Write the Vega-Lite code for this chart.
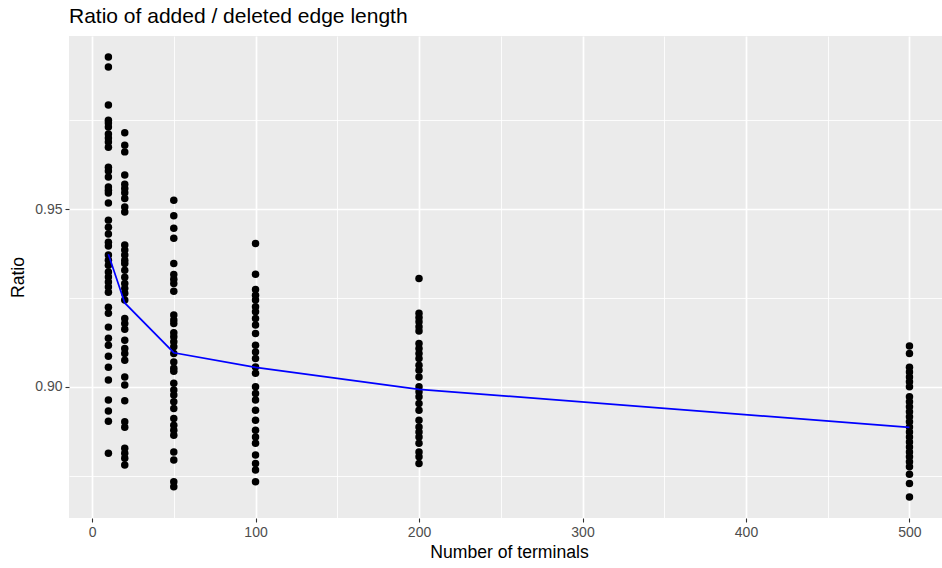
{
  "$schema": "https://vega.github.io/schema/vega-lite/v6.json",
  "width": 873,
  "height": 482,
  "autosize": {"type": "none"},
  "padding": {"left": 69, "top": 36, "right": 0, "bottom": 50},
  "background": "white",
  "config": {
    "view": {"fill": "#EBEBEB", "stroke": null},
    "font": "Liberation Sans"
  },
  "title": {
    "text": "Ratio of added / deleted edge length",
    "anchor": "start",
    "frame": "group",
    "fontSize": 21,
    "fontWeight": "normal",
    "color": "black",
    "font": "Liberation Sans",
    "baseline": "alphabetic",
    "offset": -8
  },
  "datasets": {
    "points": [
      {"terminals": 10, "ratio": 0.9928}, {"terminals": 10, "ratio": 0.9900}, {"terminals": 10, "ratio": 0.9793},
      {"terminals": 10, "ratio": 0.9750}, {"terminals": 10, "ratio": 0.9742}, {"terminals": 10, "ratio": 0.9731},
      {"terminals": 10, "ratio": 0.9711}, {"terminals": 10, "ratio": 0.9700}, {"terminals": 10, "ratio": 0.9689},
      {"terminals": 10, "ratio": 0.9674}, {"terminals": 10, "ratio": 0.9618}, {"terminals": 10, "ratio": 0.9607},
      {"terminals": 10, "ratio": 0.9590}, {"terminals": 10, "ratio": 0.9562}, {"terminals": 10, "ratio": 0.9553},
      {"terminals": 10, "ratio": 0.9545}, {"terminals": 10, "ratio": 0.9517}, {"terminals": 10, "ratio": 0.9469},
      {"terminals": 10, "ratio": 0.9449}, {"terminals": 10, "ratio": 0.9430}, {"terminals": 10, "ratio": 0.9407},
      {"terminals": 10, "ratio": 0.9396}, {"terminals": 10, "ratio": 0.9371}, {"terminals": 10, "ratio": 0.9356},
      {"terminals": 10, "ratio": 0.9342}, {"terminals": 10, "ratio": 0.9323}, {"terminals": 10, "ratio": 0.9309},
      {"terminals": 10, "ratio": 0.9295}, {"terminals": 10, "ratio": 0.9281}, {"terminals": 10, "ratio": 0.9266},
      {"terminals": 10, "ratio": 0.9224}, {"terminals": 10, "ratio": 0.9207}, {"terminals": 10, "ratio": 0.9168},
      {"terminals": 10, "ratio": 0.9137}, {"terminals": 10, "ratio": 0.9117}, {"terminals": 10, "ratio": 0.9086},
      {"terminals": 10, "ratio": 0.9055}, {"terminals": 10, "ratio": 0.9019}, {"terminals": 10, "ratio": 0.8963},
      {"terminals": 10, "ratio": 0.8932}, {"terminals": 10, "ratio": 0.8903}, {"terminals": 10, "ratio": 0.8813},

      {"terminals": 20, "ratio": 0.9715}, {"terminals": 20, "ratio": 0.9680}, {"terminals": 20, "ratio": 0.9661},
      {"terminals": 20, "ratio": 0.9596}, {"terminals": 20, "ratio": 0.9570}, {"terminals": 20, "ratio": 0.9558},
      {"terminals": 20, "ratio": 0.9546}, {"terminals": 20, "ratio": 0.9530}, {"terminals": 20, "ratio": 0.9506},
      {"terminals": 20, "ratio": 0.9492}, {"terminals": 20, "ratio": 0.9399}, {"terminals": 20, "ratio": 0.9385},
      {"terminals": 20, "ratio": 0.9371}, {"terminals": 20, "ratio": 0.9356}, {"terminals": 20, "ratio": 0.9347},
      {"terminals": 20, "ratio": 0.9328}, {"terminals": 20, "ratio": 0.9308}, {"terminals": 20, "ratio": 0.9291},
      {"terminals": 20, "ratio": 0.9277}, {"terminals": 20, "ratio": 0.9263}, {"terminals": 20, "ratio": 0.9244},
      {"terminals": 20, "ratio": 0.9192}, {"terminals": 20, "ratio": 0.9178}, {"terminals": 20, "ratio": 0.9162},
      {"terminals": 20, "ratio": 0.9131}, {"terminals": 20, "ratio": 0.9108}, {"terminals": 20, "ratio": 0.9094},
      {"terminals": 20, "ratio": 0.9075}, {"terminals": 20, "ratio": 0.9028}, {"terminals": 20, "ratio": 0.9005},
      {"terminals": 20, "ratio": 0.8961}, {"terminals": 20, "ratio": 0.8902}, {"terminals": 20, "ratio": 0.8886},
      {"terminals": 20, "ratio": 0.8827}, {"terminals": 20, "ratio": 0.8813}, {"terminals": 20, "ratio": 0.8799},
      {"terminals": 20, "ratio": 0.8780},

      {"terminals": 50, "ratio": 0.9525}, {"terminals": 50, "ratio": 0.9481}, {"terminals": 50, "ratio": 0.9446},
      {"terminals": 50, "ratio": 0.9418}, {"terminals": 50, "ratio": 0.9347}, {"terminals": 50, "ratio": 0.9316},
      {"terminals": 50, "ratio": 0.9303}, {"terminals": 50, "ratio": 0.9291}, {"terminals": 50, "ratio": 0.9269},
      {"terminals": 50, "ratio": 0.9202}, {"terminals": 50, "ratio": 0.9188}, {"terminals": 50, "ratio": 0.9178},
      {"terminals": 50, "ratio": 0.9152}, {"terminals": 50, "ratio": 0.9141}, {"terminals": 50, "ratio": 0.9127},
      {"terminals": 50, "ratio": 0.9113}, {"terminals": 50, "ratio": 0.9094}, {"terminals": 50, "ratio": 0.9070},
      {"terminals": 50, "ratio": 0.9052}, {"terminals": 50, "ratio": 0.9044}, {"terminals": 50, "ratio": 0.9010},
      {"terminals": 50, "ratio": 0.8991}, {"terminals": 50, "ratio": 0.8977}, {"terminals": 50, "ratio": 0.8958},
      {"terminals": 50, "ratio": 0.8939}, {"terminals": 50, "ratio": 0.8911}, {"terminals": 50, "ratio": 0.8892},
      {"terminals": 50, "ratio": 0.8878}, {"terminals": 50, "ratio": 0.8864}, {"terminals": 50, "ratio": 0.8817},
      {"terminals": 50, "ratio": 0.8794}, {"terminals": 50, "ratio": 0.8733}, {"terminals": 50, "ratio": 0.8719},

      {"terminals": 100, "ratio": 0.9403}, {"terminals": 100, "ratio": 0.9317}, {"terminals": 100, "ratio": 0.9274},
      {"terminals": 100, "ratio": 0.9258}, {"terminals": 100, "ratio": 0.9244}, {"terminals": 100, "ratio": 0.9225},
      {"terminals": 100, "ratio": 0.9211}, {"terminals": 100, "ratio": 0.9192}, {"terminals": 100, "ratio": 0.9174},
      {"terminals": 100, "ratio": 0.9150}, {"terminals": 100, "ratio": 0.9117}, {"terminals": 100, "ratio": 0.9098},
      {"terminals": 100, "ratio": 0.9080}, {"terminals": 100, "ratio": 0.9056}, {"terminals": 100, "ratio": 0.9038},
      {"terminals": 100, "ratio": 0.9000}, {"terminals": 100, "ratio": 0.8981}, {"terminals": 100, "ratio": 0.8963},
      {"terminals": 100, "ratio": 0.8934}, {"terminals": 100, "ratio": 0.8906}, {"terminals": 100, "ratio": 0.8878},
      {"terminals": 100, "ratio": 0.8859}, {"terminals": 100, "ratio": 0.8841}, {"terminals": 100, "ratio": 0.8808},
      {"terminals": 100, "ratio": 0.8784}, {"terminals": 100, "ratio": 0.8766}, {"terminals": 100, "ratio": 0.8733},

      {"terminals": 200, "ratio": 0.9305}, {"terminals": 200, "ratio": 0.9207}, {"terminals": 200, "ratio": 0.9195},
      {"terminals": 200, "ratio": 0.9183}, {"terminals": 200, "ratio": 0.9169}, {"terminals": 200, "ratio": 0.9157},
      {"terminals": 200, "ratio": 0.9122}, {"terminals": 200, "ratio": 0.9108}, {"terminals": 200, "ratio": 0.9094},
      {"terminals": 200, "ratio": 0.9080}, {"terminals": 200, "ratio": 0.9061}, {"terminals": 200, "ratio": 0.9047},
      {"terminals": 200, "ratio": 0.9028}, {"terminals": 200, "ratio": 0.9000}, {"terminals": 200, "ratio": 0.8986},
      {"terminals": 200, "ratio": 0.8972}, {"terminals": 200, "ratio": 0.8953}, {"terminals": 200, "ratio": 0.8934},
      {"terminals": 200, "ratio": 0.8906}, {"terminals": 200, "ratio": 0.8887}, {"terminals": 200, "ratio": 0.8873},
      {"terminals": 200, "ratio": 0.8859}, {"terminals": 200, "ratio": 0.8841}, {"terminals": 200, "ratio": 0.8817},
      {"terminals": 200, "ratio": 0.8803}, {"terminals": 200, "ratio": 0.8784},

      {"terminals": 500, "ratio": 0.9115}, {"terminals": 500, "ratio": 0.9094}, {"terminals": 500, "ratio": 0.9055},
      {"terminals": 500, "ratio": 0.9042}, {"terminals": 500, "ratio": 0.9028}, {"terminals": 500, "ratio": 0.9014},
      {"terminals": 500, "ratio": 0.9000}, {"terminals": 500, "ratio": 0.8972}, {"terminals": 500, "ratio": 0.8958},
      {"terminals": 500, "ratio": 0.8944}, {"terminals": 500, "ratio": 0.8930}, {"terminals": 500, "ratio": 0.8916},
      {"terminals": 500, "ratio": 0.8902}, {"terminals": 500, "ratio": 0.8887}, {"terminals": 500, "ratio": 0.8873},
      {"terminals": 500, "ratio": 0.8859}, {"terminals": 500, "ratio": 0.8845}, {"terminals": 500, "ratio": 0.8831},
      {"terminals": 500, "ratio": 0.8817}, {"terminals": 500, "ratio": 0.8803}, {"terminals": 500, "ratio": 0.8789},
      {"terminals": 500, "ratio": 0.8775}, {"terminals": 500, "ratio": 0.8754}, {"terminals": 500, "ratio": 0.8728},
      {"terminals": 500, "ratio": 0.8690}
    ],
    "means": [
      {"terminals": 10, "ratio": 0.9373},
      {"terminals": 20, "ratio": 0.9236},
      {"terminals": 50, "ratio": 0.9096},
      {"terminals": 100, "ratio": 0.9055},
      {"terminals": 200, "ratio": 0.8993},
      {"terminals": 500, "ratio": 0.8886}
    ]
  },
  "encoding": {
    "x": {
      "field": "terminals",
      "type": "quantitative",
      "scale": {"domain": [-14.1, 519.9], "nice": false, "zero": false},
      "axis": {
        "title": "Number of terminals",
        "values": [0, 50, 100, 150, 200, 250, 300, 350, 400, 450, 500],
        "labelExpr": "datum.value % 100 === 0 ? datum.label : ''",
        "grid": true,
        "gridColor": "white",
        "gridWidth": {"condition": {"test": "datum.value % 100 === 0", "value": 1.7}, "value": 0.85},
        "domain": false,
        "ticks": true,
        "tickColor": "#333333",
        "tickSize": 4,
        "tickWidth": 1.1,
        "tickOpacity": {"condition": {"test": "datum.value % 100 === 0", "value": 1}, "value": 0},
        "labelColor": "#4D4D4D",
        "labelFontSize": 14,
        "labelFont": "Liberation Sans",
        "labelPadding": 3,
        "labelFlush": false,
        "labelOverlap": false,
        "titleFontSize": 17.6,
        "titleFontWeight": "normal",
        "titleColor": "black",
        "titleFont": "Liberation Sans",
        "titlePadding": 4,
        "titleX": 440
      }
    },
    "y": {
      "field": "ratio",
      "type": "quantitative",
      "scale": {"domain": [0.8631, 0.9987], "nice": false, "zero": false},
      "axis": {
        "title": "Ratio",
        "values": [0.875, 0.9, 0.925, 0.95, 0.975],
        "format": ".2f",
        "labelExpr": "(abs(datum.value - 0.9) < 1e-6 || abs(datum.value - 0.95) < 1e-6) ? datum.label : ''",
        "grid": true,
        "gridColor": "white",
        "gridWidth": {"condition": {"test": "abs(datum.value - 0.9) < 1e-6 || abs(datum.value - 0.95) < 1e-6", "value": 1.7}, "value": 0.85},
        "domain": false,
        "ticks": true,
        "tickColor": "#333333",
        "tickSize": 4,
        "tickWidth": 1.1,
        "tickOpacity": {"condition": {"test": "abs(datum.value - 0.9) < 1e-6 || abs(datum.value - 0.95) < 1e-6", "value": 1}, "value": 0},
        "labelColor": "#4D4D4D",
        "labelFontSize": 14,
        "labelFont": "Liberation Sans",
        "labelPadding": 3,
        "labelFlush": false,
        "labelOverlap": false,
        "titleFontSize": 17.6,
        "titleFontWeight": "normal",
        "titleColor": "black",
        "titleFont": "Liberation Sans",
        "titlePadding": 7
      }
    }
  },
  "layer": [
    {
      "data": {"name": "points"},
      "mark": {"type": "point", "filled": true, "color": "black", "opacity": 1, "size": 56, "shape": "circle"}
    },
    {
      "data": {"name": "means"},
      "mark": {"type": "line", "color": "#0000FF", "strokeWidth": 1.7}
    }
  ]
}
